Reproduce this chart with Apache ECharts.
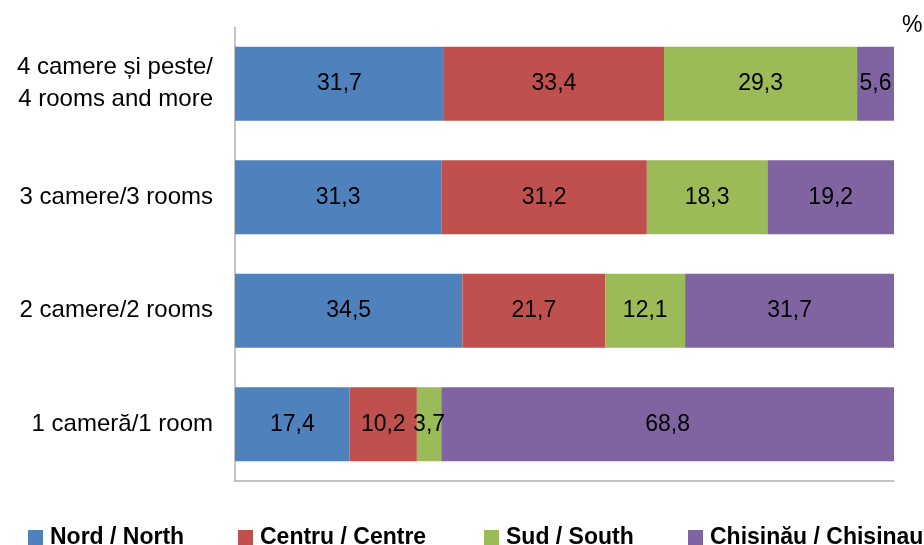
<!DOCTYPE html>
<html>
<head>
<meta charset="utf-8">
<script src="https://cdn.jsdelivr.net/npm/echarts@6/dist/echarts.min.js"></script>
<style>html,body{margin:0;padding:0;background:#fff}#c{width:924px;height:545px}</style>
</head>
<body>
<div id="c"></div>
<script>
const categories = ['1 cameră/1 room', '2 camere/2 rooms', '3 camere/3 rooms', '4 camere și peste/\n4 rooms and more'];
const seriesNames = ['Nord / North', 'Centru / Centre', 'Sud / South', 'Chișinău / Chisinau'];
const nord = [17.4, 34.5, 31.3, 31.7];
const centru = [10.2, 21.7, 31.2, 33.4];
const sud = [3.7, 12.1, 18.3, 29.3];
const chisinau = [68.8, 31.7, 19.2, 5.6];
const unitLabel = '%';

const colors = ['#4f81bd', '#c0504d', '#9bbb59', '#8064a2'];
const values = [nord, centru, sud, chisinau];
const font = '"Liberation Sans", Arial, sans-serif';

const chart = echarts.init(document.getElementById('c'), null, {renderer: 'canvas'});
const legendLefts = [23, 233, 479, 683];
chart.setOption({
  animation: false,
  backgroundColor: '#fff',
  grid: {left: 235, right: 30, top: 27, bottom: 64, containLabel: false},
  title: {text: unitLabel, left: 897, top: 9, textStyle: {fontFamily: font, fontSize: 23, fontWeight: 'normal', color: '#000'}},
  legend: seriesNames.map((n, i) => ({
    data: [n], left: legendLefts[i], top: 521, itemWidth: 15, itemHeight: 15, icon: 'rect',
    textStyle: {fontFamily: font, fontSize: 23, fontWeight: 'bold', color: '#000', padding: [0, 0, 0, 2]}
  })),
  xAxis: {
    type: 'value', min: 0, max: 100,
    axisLine: {show: true, lineStyle: {color: '#b0b0b0', width: 1.5}},
    axisTick: {show: false}, axisLabel: {show: false}, splitLine: {show: false}
  },
  yAxis: {
    type: 'category', data: categories,
    axisLine: {show: true, lineStyle: {color: '#b0b0b0', width: 1.5}},
    axisTick: {show: false},
    axisLabel: {fontFamily: font, fontSize: 24, color: '#000', margin: 22, lineHeight: 32, align: 'right'}
  },
  series: seriesNames.map((n, i) => ({
    name: n, type: 'bar', stack: 'total', data: values[i], barWidth: 74,
    itemStyle: {color: colors[i]},
    label: {show: true, position: 'inside', fontFamily: font, fontSize: 23, color: '#000',
      formatter: p => String(p.value).replace('.', ',')}
  }))
});
</script>
</body>
</html>
